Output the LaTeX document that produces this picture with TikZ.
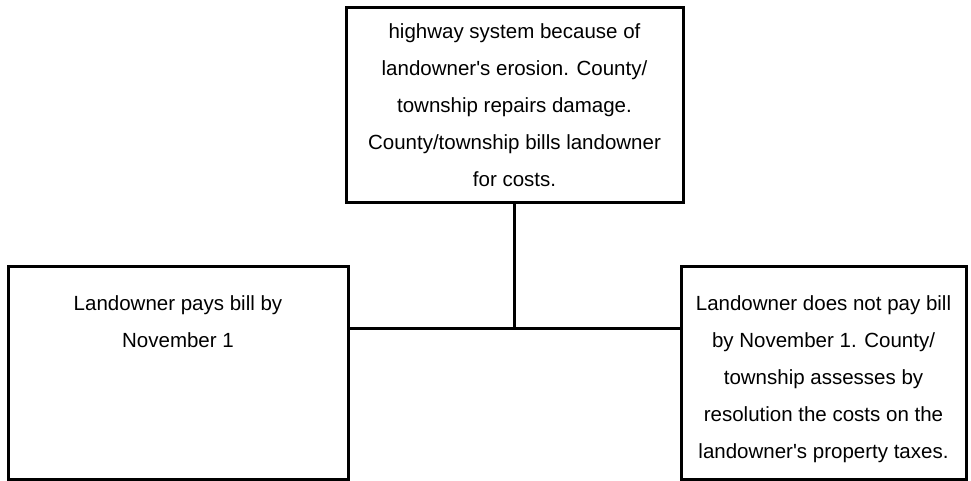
\documentclass[tikz,border=0pt]{standalone}
\usepackage{fontspec}
\setmainfont{Liberation Sans}[Ligatures=TeXOff]
\usetikzlibrary{positioning}

\tikzset{
  box/.style={draw, line width=3pt, align=center, inner sep=0pt,
    font=\fontsize{20.5}{37}\selectfont},
  boxtext/.style={anchor=north, align=center, inner sep=0pt,
    font=\fontsize{20.5}{37}\selectfont},
  link/.style={line width=3pt}
}

\begin{document}
\begin{tikzpicture}[x=1pt,y=1pt]
\useasboundingbox (0,0) rectangle (971,481);
% top box
\node [box, minimum width=337pt, minimum height=195pt] (repair) at (514.5,375.5)
  {highway system because of\\landowner's erosion. County/\\township repairs damage.\\County/township bills landowner\\for costs.};
% two outcomes
\node [box, minimum width=340pt, minimum height=213pt] (pays) at (178,107.5) {};
\node [boxtext] (paystext) at ([yshift=-30pt]pays.north) {Landowner pays bill by\\November 1};
\node [box, minimum width=285pt, minimum height=213pt] (nopay) at (823.5,107.5) {};
\node [boxtext] (nopaytext) at ([yshift=-30pt]nopay.north)
  {Landowner does not pay bill\\by November 1. County/\\township assesses by\\resolution the costs on the\\landowner's property taxes.};
% connectors
\coordinate (join) at (514.5,152);
\draw [link] (repair.south) -- (join);
\draw [link] (pays.east |- join) -- (nopay.west |- join);
\end{tikzpicture}
\end{document}
